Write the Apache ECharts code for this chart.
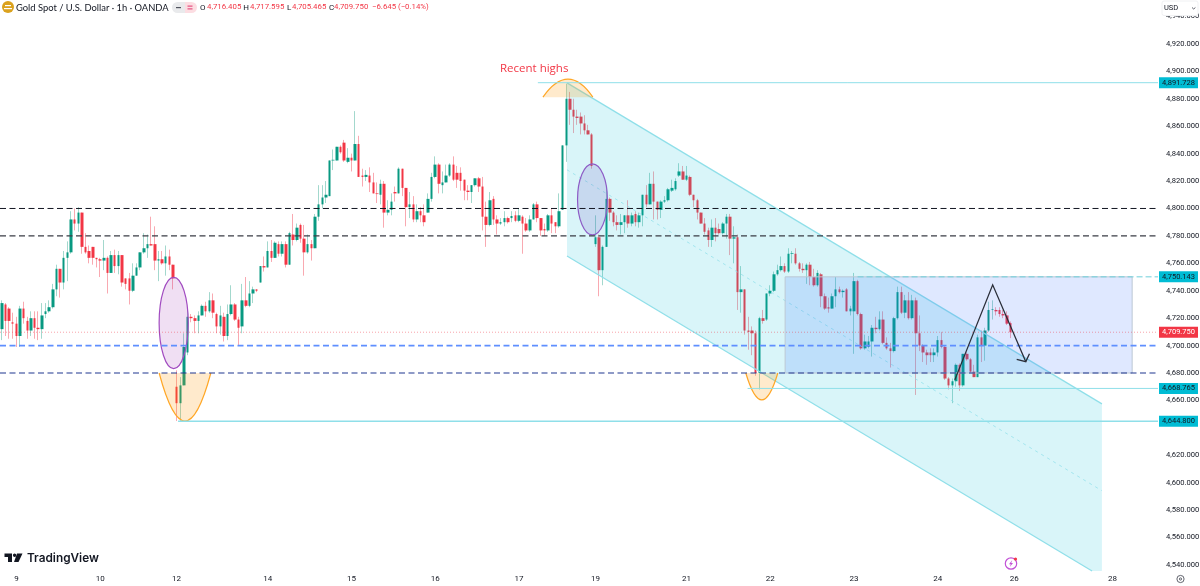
<!DOCTYPE html>
<html><head><meta charset="utf-8">
<style>html,body{margin:0;padding:0;background:#fff}#c{width:1200px;height:586px}</style>
<script src="https://cdn.jsdelivr.net/npm/echarts@6/dist/echarts.min.js"></script>
</head><body><div id="c"></div>
<script>
// Candles: [open, close, low, high]
const sessionA=[[4712,4731,4704,4733],[4730,4718,4707,4731],[4727,4718,4705,4728],[4717,4716,4705,4724],[4716,4707,4699,4721],[4707,4727,4699,4729],[4727,4720,4716,4732],[4718,4711,4705,4721],[4711,4720,4707,4725],[4720,4713,4705,4725],[4713,4712,4704,4725],[4712,4722,4705,4731],[4723,4725,4720,4731],[4725,4728,4724,4733],[4728,4741,4727,4745],[4741,4756,4736,4759],[4756,4746,4735,4756],[4746,4764,4741,4769],[4764,4768,4747,4776],[4768,4792,4767,4798],[4792,4789,4784,4800],[4789,4797,4783,4801],[4797,4772,4767,4797],[4772,4768,4767,4782],[4769,4764,4760,4773],[4772,4764,4759,4772],[4764,4763,4757,4764],[4763,4762,4750,4764],[4762,4764,4755,4777],[4764,4753,4738,4765],[4753,4766,4753,4769],[4766,4758,4753,4770],[4758,4766,4752,4769],[4766,4746,4743,4766],[4749,4745,4741,4749],[4749,4740,4730,4753],[4740,4751,4739,4760],[4751,4757,4751,4760],[4757,4768,4755,4768],[4768,4771,4767,4782],[4771,4774,4764,4781],[4774,4773,4773,4794],[4774,4762,4755,4787],[4762,4763,4747,4769],[4763,4760,4759,4769],[4760,4765,4751,4773],[4765,4759,4755,4770],[4759,4749,4741,4759]];
const sessionB=[[4670,4658,4645,4682],[4658,4671,4645,4677],[4671,4699,4671,4709],[4695,4721,4693,4727],[4721,4720,4717,4723],[4720,4718,4709,4722],[4718,4722,4709,4725],[4722,4729,4722,4730],[4729,4725,4721,4732],[4725,4733,4724,4739],[4733,4724,4720,4738],[4723,4714,4709,4724],[4714,4722,4708,4729],[4721,4707,4703,4724],[4707,4723,4704,4730],[4723,4730,4722,4744],[4730,4719,4718,4731],[4719,4713,4700,4721],[4714,4733,4709,4745],[4733,4729,4728,4750],[4729,4738,4728,4747],[4738,4741,4731,4743],[4741,4740,4739,4741],[4746,4758,4746,4758],[4758,4757,4754,4765],[4757,4769,4757,4776],[4769,4764,4761,4777],[4764,4775,4764,4776],[4774,4767,4765,4776],[4767,4774,4765,4776],[4774,4759,4757,4776],[4759,4782,4759,4783],[4781,4777,4773,4796],[4777,4786,4776,4789],[4788,4778,4775,4789],[4778,4768,4751,4788],[4768,4774,4767,4781],[4774,4771,4762,4777],[4771,4794,4771,4796],[4794,4803,4791,4817],[4803,4808,4800,4817],[4808,4810,4804,4820],[4809,4835,4809,4835],[4835,4835.5,4828,4843],[4835,4845,4835,4845],[4845,4841,4840,4846],[4848,4835,4834,4850],[4834,4837,4833,4844]];
const sessionC=[[4837,4835,4827,4840],[4835,4847,4835,4871],[4847,4823,4823,4853],[4824,4823,4816,4829],[4823,4824.5,4820,4828],[4824,4819,4812,4830],[4819,4811,4811,4826],[4811,4810.5,4804,4819],[4810,4818,4803,4821],[4818,4797,4786,4820],[4797,4799,4795,4806],[4799,4805,4795,4811],[4812,4811,4805,4816],[4811,4829,4811,4830],[4829,4815,4809,4829],[4815,4801,4787,4815],[4801,4803,4793,4812],[4803,4792,4790,4809],[4792,4798,4790,4803],[4798,4795,4790,4801],[4795,4790,4787,4803],[4797,4807,4797,4811],[4807,4823,4805,4826],[4823,4832,4822,4838],[4832,4818,4811,4833],[4817,4819,4811,4827],[4819,4824,4819,4832],[4824,4832,4823,4833],[4832,4821,4820,4838],[4826,4821,4815,4831],[4826,4820,4813,4830],[4821,4813,4806,4821],[4813,4812,4806,4817],[4812,4817,4804,4817],[4817,4822,4816,4822],[4822,4816,4812,4823],[4816,4794,4784,4823],[4794,4788,4772,4805],[4788,4806,4787,4812],[4807,4792,4788,4809],[4792,4789,4781,4795],[4789,4790,4788,4793],[4790,4793,4787,4798],[4793,4790,4789,4794],[4793,4794.5,4790,4798],[4795,4791,4790,4798],[4791,4795,4790,4800]];
const sessionD=[[4794,4789,4767,4795],[4789,4784,4783,4793],[4784,4792,4783,4795],[4792,4803,4792,4804],[4803,4793,4790,4805],[4793,4784,4780,4793],[4785,4784,4780,4789],[4784,4795,4783,4796],[4795,4789,4782,4800],[4790,4787,4782,4790],[4787,4798,4786,4811],[4799,4846,4799,4846],[4846,4880,4834,4891],[4880,4872,4861,4885],[4872,4867,4855,4880],[4867,4866,4861,4872],[4867,4862,4854,4870],[4862,4857,4854,4868],[4857,4854,4854,4861],[4854,4831,4829,4855],[4774,4779,4772,4795],[4779,4755,4736,4781],[4755,4772,4744,4773],[4772,4807,4772,4814],[4807,4797,4791,4808],[4797,4790,4787,4798],[4790,4788,4784,4795],[4788,4790,4781,4796],[4790,4795,4782,4795],[4795,4789,4786,4806],[4789,4795,4787,4797],[4796,4790,4787,4798],[4790,4795,4786,4797],[4795,4810,4787,4810],[4810,4803,4801,4817],[4803,4818,4803,4826],[4818,4805,4792,4827],[4805,4799,4792,4805],[4799,4805,4793,4806],[4805,4806,4804,4809],[4806,4814,4805,4815],[4813,4815,4812,4821],[4814,4820,4813,4822],[4824,4827,4823,4833],[4827,4821,4821,4831]];
const sessionE=[[4821,4824,4820,4831],[4823,4810,4809,4824],[4810,4806,4801,4810],[4806,4797,4792,4807],[4797,4789,4789,4797],[4789,4783,4781,4793],[4784,4777,4772,4786],[4777,4786,4772,4792],[4786,4782,4776,4793],[4785,4782,4781,4789],[4782,4789,4781,4790],[4789,4794,4778,4796],[4794,4778,4766,4796],[4778,4779,4760,4787],[4779,4739,4726,4781],[4739,4741,4724,4758],[4741,4711,4708,4741],[4711,4710,4697,4721],[4711,4709,4693,4714],[4709,4680,4678,4711],[4680,4720,4668,4721],[4720,4718,4716,4726],[4719,4738,4718,4738],[4738,4740,4736,4744],[4740,4752,4739,4754],[4752,4755,4751,4759],[4755,4758,4754,4765],[4758,4754,4753,4760],[4754,4767,4753,4771],[4767,4767.5,4760,4769],[4767,4760,4759,4771],[4760,4756,4754,4761],[4756,4755,4753,4760],[4755,4759,4745,4760],[4759,4750,4744,4761],[4750,4744,4743,4756],[4744,4753,4743,4755],[4752,4736,4728,4753],[4736,4727,4726,4738],[4728,4727,4724,4735],[4727,4736,4727,4738],[4736,4741,4728,4750],[4741,4739,4738,4743],[4739,4740,4735,4741],[4741,4725,4725,4742],[4725,4727,4722,4729],[4725,4747,4694,4753]];
const sessionF=[[4747,4723,4722,4748],[4723,4698,4697,4724],[4698,4703,4697,4708],[4699,4703,4698,4707],[4703,4713,4692,4715],[4713,4712,4709,4721],[4712,4719,4711,4725],[4719,4702,4701,4725],[4702,4698,4697,4706],[4698,4696,4684,4702],[4696,4720,4695,4721],[4720,4739,4719,4743],[4739,4724,4723,4743],[4724,4733,4720,4737],[4733,4720,4719,4739],[4720,4733,4719,4737],[4733,4709,4664,4735],[4709,4700,4696,4722],[4700,4695,4688,4701],[4695,4693,4686,4697],[4695,4693,4688,4698],[4693,4695,4688,4698],[4695,4704,4692,4707],[4704,4699,4698,4710],[4699,4676,4675,4700],[4676,4671,4668,4677],[4671,4674,4658,4676],[4674,4686,4670,4687],[4686,4671,4667,4687],[4671,4694,4670,4694],[4694,4690,4689,4695],[4690,4681,4680,4691],[4681,4677,4677,4686],[4677,4706,4677,4708],[4706,4700,4688,4711],[4700,4711,4689,4713],[4711,4726,4710,4732],[4726,4726.5,4719,4733],[4726,4725,4722,4728],[4726,4723,4721,4728],[4723,4722,4720,4726],[4722,4716,4715,4725],[4716.405,4709.75,4705.465,4717.595]];

const dayLabels=['9','10','12','14','15','16','17','19','21','22','23','24','26','28'];
const dayLabelBars=[4,27,48,73,96,119,142,163,188,211,234,257,278,305];
const barCount=318;

// Drawings, in bar number and price
const channelBars=[155.2,302.1,302.1,299.4,155.2];
const channelPrices=[4891.6,4657.5,4535.7,4535.7,4765.4];
const channelTopBars=[155.2,302.1], channelTopPrices=[4891.6,4657.5];
const channelLowBars=[155.2,299.4], channelLowPrices=[4765.4,4535.7];
const channelMidBars=[155.2,302.1], channelMidPrices=[4828.2,4594.2];
const boxBars=[215.1,310.4], boxPrices=[4750.143,4680];
const arcBars=[[43.2,50.3,57.4],[148.6,155.5,162.3],[204.3,208.7,213.1]];
const arcPrices=[[4680,4610,4680],[4881.2,4907.4,4881.2],[4680,4640.8,4680]];
const ellipseBars=[[43.2,51.2],[158.1,166.3]];
const ellipsePrices=[[4749.8,4683.2],[4832.5,4780.7]];
const ellipseFills=['rgba(156,39,176,0.15)','rgba(103,58,183,0.15)'];
const ellipseStrokes=['#a14bc0','#8d5cc6'];
const zigBars=[261.7,272.1,281.2], zigPrices=[4675,4744.3,4688.3];
const arrowBars=[278.7,281.2,282.2], arrowPrices=[4690,4688.3,4694];
const dashedLevels=[4800,4780,4700,4680];
const dashedColors=['#131722','#3a3d45','#5f8fff','#1f3690'];
const dashedWidths=[1,1.3,1.6,1.1];
const lastPrice=4709.75;
const rayStartBars=[147.2,204.8,48.4,235];
const rayPrices=[4891.728,4668.765,4644.8,4750.143];
const rayWidths=[1,1,1.4,1];
const tagPrices=[4891.728,4750.143,4709.75,4668.765,4644.8];
const tagTexts=['4,891.728','4,750.143','4,709.750','4,668.765','4,644.800'];
const hiddenTicks=[4640];
const headerValues=['4,716.405','4,717.595','4,705.465','4,709.750'];

const FONT='Roboto, "Open Sans", sans-serif';
const candles=[...sessionA,...sessionB,...sessionC,...sessionD,...sessionE,...sessionF];
const bodies=candles.map(c=>[c[0],c[1],Math.min(c[0],c[1]),Math.max(c[0],c[1])]);
const cats=Array.from({length:barCount},(_,i)=>String(i));
const labelAt={};dayLabelBars.forEach((b,i)=>labelAt[b]=dayLabels[i]);

const TEAL='#8fdfe9';
function lineEl(a,b,style){return{type:'line',shape:{x1:a[0],y1:a[1],x2:b[0],y2:b[1]},style:Object.assign({fill:null},style)};}
function zipPts(api,bars,prices){return bars.map((b,i)=>api.coord([b,prices[i]]));}

function drawing(name,z,build){
  return{type:'custom',name,coordinateSystem:'cartesian2d',xAxisIndex:1,yAxisIndex:0,data:[[0,4700]],clip:false,silent:true,z,
    encode:{x:0,y:1},renderItem:(p,api)=>({type:'group',children:build(api)})};
}

const series=[
 {type:'candlestick',name:'wicks',xAxisIndex:0,yAxisIndex:0,data:candles,barWidth:1,z:2,animation:false,silent:true,
  itemStyle:{color:'#a3d8cd',color0:'#f9a9b1',borderColor:'#a3d8cd',borderColor0:'#f9a9b1',borderWidth:1}},
 {type:'candlestick',name:'bodies',xAxisIndex:0,yAxisIndex:0,data:bodies,barWidth:3,z:3,animation:false,silent:true,
  itemStyle:{color:'#089981',color0:'#f23645',borderColor:'#089981',borderColor0:'#f23645',borderWidth:0}},
 drawing('channel',4,api=>[
   {type:'polygon',shape:{points:zipPts(api,channelBars,channelPrices)},style:{fill:'rgba(0,188,212,0.15)'}},
   lineEl(...zipPts(api,channelTopBars,channelTopPrices),{stroke:TEAL,lineWidth:1.2}),
   lineEl(...zipPts(api,channelLowBars,channelLowPrices),{stroke:TEAL,lineWidth:1.2}),
   lineEl(...zipPts(api,channelMidBars,channelMidPrices),{stroke:TEAL,lineWidth:1,lineDash:[3,4],opacity:.75})
 ]),
 drawing('box',5,api=>{
   const a=api.coord([boxBars[0],boxPrices[0]]),b=api.coord([boxBars[1],boxPrices[1]]);
   return[{type:'rect',shape:{x:a[0],y:a[1],width:b[0]-a[0],height:b[1]-a[1]},style:{fill:'rgba(41,98,255,0.15)',stroke:'#bcc8d4',lineWidth:1}}];
 }),
 drawing('arcs',6,api=>arcBars.map((bars,i)=>{
   const q=zipPts(api,bars,arcPrices[i]);
   return{type:'bezierCurve',shape:{x1:q[0][0],y1:q[0][1],cpx1:q[1][0],cpy1:q[1][1],x2:q[2][0],y2:q[2][1]},
     style:{fill:'rgba(255,152,0,0.2)',stroke:'#ffa726',lineWidth:1.2}};
 })),
 drawing('ellipses',7,api=>ellipseBars.map((bars,i)=>{
   const a=api.coord([bars[0],ellipsePrices[i][0]]),b=api.coord([bars[1],ellipsePrices[i][1]]);
   return{type:'ellipse',shape:{cx:(a[0]+b[0])/2,cy:(a[1]+b[1])/2,rx:(b[0]-a[0])/2,ry:(b[1]-a[1])/2},
     style:{fill:ellipseFills[i],stroke:ellipseStrokes[i],lineWidth:1.2}};
 })),
 drawing('levels',8,api=>{
   const L=api.coord([-0.5,4700])[0],R=api.coord([barCount-0.5,4700])[0],els=[];
   dashedLevels.forEach((p,i)=>{const y=api.coord([0,p])[1];
     els.push(lineEl([L,y],[R,y],{stroke:dashedColors[i],lineWidth:dashedWidths[i],lineDash:[6,3.5]}));});
   const ly=api.coord([0,lastPrice])[1];
   els.push(lineEl([L,ly],[R,ly],{stroke:'rgba(242,54,69,0.45)',lineWidth:1,lineDash:[1,2]}));
   rayPrices.forEach((p,i)=>{const a=api.coord([rayStartBars[i],p]);
     els.push(lineEl(a,[R,a[1]],{stroke:i==3?'#6fcfda':TEAL,lineWidth:rayWidths[i],lineDash:i==3?[6,3]:null}));});
   return els;
 }),
 drawing('arrow',9,api=>[
   {type:'polyline',shape:{points:zipPts(api,zigBars,zigPrices)},style:{fill:null,stroke:'#2a2e39',lineWidth:1.3}},
   {type:'polyline',shape:{points:zipPts(api,arrowBars,arrowPrices)},style:{fill:null,stroke:'#2a2e39',lineWidth:1.3}}
 ]),
 drawing('note',10,api=>{const a=api.coord([136.8,4901.8]);
   return[{type:'text',style:{x:a[0],y:a[1],text:'Recent highs',fill:'#f23645',font:'11.5px "Open Sans", sans-serif',textAlign:'left',textVerticalAlign:'middle'}}];}),
 drawing('tags',11,api=>{
   const out=[];
   tagPrices.forEach((p,i)=>{const y=api.coord([0,p])[1],red=p===lastPrice;
     out.push({type:'rect',shape:{x:1159,y:y-5.5,width:39,height:11},style:{fill:red?'#f23645':'#00bcd4'}});
     out.push({type:'text',style:{x:1178.5,y:y,text:tagTexts[i],fill:red?'#fff':'#131722',font:'7.5px '+FONT,textAlign:'center',textVerticalAlign:'middle'}});
   });
   return out;
 })
];

function txt(x,y,text,fill,size,family,weight){
  return{type:'text',x,y,z:20,silent:true,style:{text,fill,font:(weight||'normal')+' '+size+'px '+(family||FONT),textVerticalAlign:'middle'}};
}
const graphic=[
 {type:'circle',shape:{cx:8,cy:7,r:6},style:{fill:'#dba21e'},z:20,silent:true},
 {type:'rect',shape:{x:5,y:5,width:6,height:1.2},style:{fill:'#fff'},z:21,silent:true},
 {type:'rect',shape:{x:4,y:8,width:8,height:1.2},style:{fill:'#fff'},z:21,silent:true},
 txt(16,7.5,'Gold Spot / U.S. Dollar · 1h · OANDA','#131722',9.4,'Lato, sans-serif'),
 {type:'rect',shape:{x:172,y:2,width:13,height:11,r:[5.5,0,0,5.5]},style:{fill:'#e9eaec'},z:20,silent:true},
 {type:'rect',shape:{x:185,y:2,width:12,height:11,r:[0,5.5,5.5,0]},style:{fill:'#fcdde2'},z:20,silent:true},
 {type:'rect',shape:{x:176,y:7,width:5,height:1.2},style:{fill:'#50535e'},z:21,silent:true},
 {type:'rect',shape:{x:187.5,y:5.6,width:5,height:1},style:{fill:'#e0356e'},z:21,silent:true},
 {type:'rect',shape:{x:187.5,y:8.4,width:5,height:1},style:{fill:'#e0356e'},z:21,silent:true},
 txt(200,7.5,'O','#131722',8),txt(207,7.5,headerValues[0],'#f23645',7.8),
 txt(243.3,7.5,'H','#131722',8),txt(250,7.5,headerValues[1],'#f23645',7.8),
 txt(287,7.5,'L','#131722',8),txt(292,7.5,headerValues[2],'#f23645',7.8),
 txt(329,7.5,'C','#131722',8),txt(334,7.5,headerValues[3],'#f23645',7.8),
 txt(372,7.5,'−6.645 (−0.14%)','#f23645',7.8),
 // USD button
 {type:'rect',shape:{x:1162,y:1,width:36,height:14.5,r:2},style:{fill:'#fff',stroke:'#f0f1f3',lineWidth:1},z:30,silent:true},
 Object.assign(txt(1164,8,'USD','#131722',7.5),{z:31}),
 {type:'polyline',shape:{points:[[1192,7.5],[1193.7,9],[1195.4,7.5]]},style:{fill:null,stroke:'#50535e',lineWidth:.9},z:31,silent:true},
 // TradingView logo
 {type:'polygon',shape:{points:[[4.5,553.5],[12,553.5],[12,562],[8,562],[8,557],[4.5,557]]},style:{fill:'#131722'},z:20,silent:true},
 {type:'circle',shape:{cx:14.6,cy:555.2,r:1.7},style:{fill:'#131722'},z:20,silent:true},
 {type:'polygon',shape:{points:[[17,553.5],[22.5,553.5],[18.5,562],[14,562]]},style:{fill:'#131722'},z:20,silent:true},
 txt(27,558,'TradingView','#131722',11.8,'Inter, sans-serif','600'),
 // flash icon
 {type:'circle',shape:{cx:1011,cy:563.5,r:5.7},style:{fill:'#fff',stroke:'#c251d6',lineWidth:1.2},z:20,silent:true},
 {type:'polygon',shape:{points:[[1012.3,560],[1009,564.3],[1010.8,564.3],[1009.8,567],[1013,563],[1011.2,563]]},style:{fill:'#c251d6'},z:21,silent:true},
 {type:'circle',shape:{cx:1015.5,cy:559,r:1.6},style:{fill:'#f23645'},z:22,silent:true},
 // settings icon
 {type:'circle',shape:{cx:1180.5,cy:579,r:3.6},style:{fill:'#fff',stroke:'#50535e',lineWidth:.9},z:20,silent:true},
 {type:'circle',shape:{cx:1180.5,cy:579,r:1.1},style:{fill:'#fff',stroke:'#50535e',lineWidth:.9},z:20,silent:true}
];

const chart=echarts.init(document.getElementById('c'),null,{renderer:'canvas',width:1200,height:586});
chart.setOption({
 animation:false,backgroundColor:'#fff',
 grid:{left:0,right:42,top:16.5,bottom:21,containLabel:false,outerBoundsMode:'none'},
 xAxis:[
  {type:'category',data:cats,boundaryGap:true,axisLine:{show:false},axisTick:{show:false},splitLine:{show:false},
   axisLabel:{interval:0,margin:10,fontSize:8,fontFamily:FONT,color:'#131722',hideOverlap:false,formatter:(v,i)=>labelAt[i]||''}},
  {type:'value',min:-0.5,max:barCount-0.5,show:false,splitLine:{show:false}}
 ],
 yAxis:{type:'value',position:'right',min:4540,max:4940,interval:20,scale:true,
  axisLine:{show:false},axisTick:{show:false},splitLine:{show:false},
  axisLabel:{margin:8,fontSize:7.6,fontFamily:FONT,color:'#131722',hideOverlap:false,padding:[2,0,0,0],
   formatter:v=>hiddenTicks.includes(v)?'':String(Math.floor(v/1000))+','+String(v%1000).padStart(3,'0')+'.000'}},
 series,graphic:{elements:graphic}
});
</script></body></html>
